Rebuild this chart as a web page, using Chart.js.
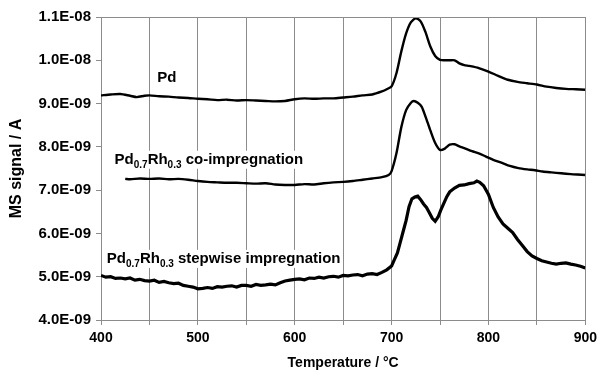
<!DOCTYPE html>
<html>
<head>
<meta charset="utf-8">
<script src="https://cdn.jsdelivr.net/npm/chart.js@4"></script>
<style>
  html, body { margin: 0; padding: 0; background: #fff; }
  canvas { display: block; }
</style>
</head>
<body>
<canvas id="msChart" width="602" height="380"></canvas>
<script>
// signal values in units of 1E-09 A
const pdTemp = [400, 410, 420, 430, 437, 445, 450, 460, 470, 480, 490, 500, 510, 520, 530, 540, 550, 560, 570, 580, 590, 600, 610, 620, 630, 640, 650, 660, 670, 680, 690, 695, 700, 705, 710, 715, 720, 725, 730, 735, 740, 745, 750, 755, 760, 765, 770, 775, 780, 790, 800, 810, 820, 830, 840, 850, 860, 870, 880, 890, 900];
const pdSignal = [9.19, 9.21, 9.22, 9.18, 9.15, 9.18, 9.19, 9.17, 9.16, 9.14, 9.13, 9.11, 9.10, 9.08, 9.09, 9.07, 9.08, 9.07, 9.06, 9.05, 9.06, 9.10, 9.12, 9.11, 9.12, 9.12, 9.14, 9.16, 9.19, 9.21, 9.28, 9.33, 9.40, 9.70, 10.20, 10.62, 10.88, 10.97, 10.90, 10.65, 10.32, 10.10, 10.01, 10.00, 10.00, 10.00, 9.93, 9.89, 9.87, 9.82, 9.74, 9.64, 9.55, 9.50, 9.47, 9.44, 9.39, 9.36, 9.34, 9.33, 9.32];

const coTemp = [425, 430, 440, 450, 460, 470, 480, 490, 500, 510, 520, 530, 540, 550, 560, 570, 580, 590, 600, 610, 620, 630, 640, 650, 660, 670, 680, 690, 697, 700, 705, 710, 715, 720, 723, 727, 731, 735, 740, 745, 750, 755, 760, 765, 770, 775, 783, 790, 797, 805, 814, 822, 831, 840, 848, 856, 865, 875, 885, 892, 900];
const coSignal = [7.26, 7.25, 7.27, 7.26, 7.27, 7.25, 7.26, 7.24, 7.21, 7.19, 7.18, 7.17, 7.17, 7.16, 7.15, 7.16, 7.13, 7.12, 7.12, 7.14, 7.13, 7.16, 7.18, 7.19, 7.21, 7.24, 7.27, 7.30, 7.35, 7.44, 7.85, 8.45, 8.85, 9.02, 9.06, 9.02, 8.93, 8.70, 8.38, 8.09, 7.93, 7.96, 8.05, 8.06, 8.01, 7.97, 7.90, 7.85, 7.78, 7.70, 7.63, 7.56, 7.51, 7.48, 7.46, 7.43, 7.41, 7.39, 7.37, 7.36, 7.35];

const swTemp = [400, 405, 410, 415, 420, 425, 430, 435, 440, 445, 450, 455, 460, 465, 470, 475, 480, 485, 490, 495, 500, 505, 510, 515, 520, 525, 530, 535, 540, 545, 550, 555, 560, 565, 570, 575, 580, 585, 590, 595, 600, 605, 610, 615, 620, 625, 630, 635, 640, 645, 650, 655, 660, 665, 670, 675, 680, 685, 690, 695, 700, 703, 706, 709, 712, 715, 718, 721, 724, 727, 730, 733, 736, 739, 742, 745, 748, 751, 754, 757, 760, 765, 770, 775, 780, 785, 788, 791, 795, 800, 805, 810, 815, 820, 825, 830, 835, 840, 845, 850, 855, 860, 865, 870, 875, 880, 885, 890, 895, 900];
const swSignal = [5.03, 4.99, 5.00, 4.96, 4.97, 4.95, 4.97, 4.92, 4.94, 4.91, 4.90, 4.92, 4.87, 4.89, 4.86, 4.84, 4.85, 4.80, 4.78, 4.76, 4.72, 4.73, 4.75, 4.73, 4.77, 4.76, 4.78, 4.79, 4.76, 4.80, 4.80, 4.78, 4.82, 4.80, 4.81, 4.83, 4.81, 4.86, 4.90, 4.92, 4.94, 4.95, 4.93, 4.97, 4.96, 4.99, 4.97, 5.00, 5.01, 4.99, 5.03, 5.02, 5.04, 5.05, 5.02, 5.06, 5.07, 5.05, 5.10, 5.16, 5.25, 5.40, 5.55, 5.80, 6.05, 6.30, 6.62, 6.80, 6.84, 6.86, 6.78, 6.68, 6.60, 6.48, 6.35, 6.28, 6.38, 6.55, 6.70, 6.85, 6.96, 7.05, 7.11, 7.12, 7.15, 7.17, 7.21, 7.18, 7.10, 6.90, 6.60, 6.38, 6.22, 6.12, 6.02, 5.86, 5.72, 5.58, 5.48, 5.42, 5.37, 5.34, 5.31, 5.29, 5.31, 5.32, 5.29, 5.27, 5.24, 5.20];

// curve labels: [main, sub1, mid, sub2, rest], anchored in data units
const labelText = [
  ['Pd', '', '', '', ''],
  ['Pd', '0.7', 'Rh', '0.3', ' co-impregnation'],
  ['Pd', '0.7', 'Rh', '0.3', ' stepwise impregnation']
];
const labelTemp = [458, 414, 406];
const labelSignal = [9.50, 7.61, 5.32];

const toPoints = (xs, ys) => xs.map((x, i) => ({ x: x, y: ys[i] }));

const fontFamily = "'Liberation Sans', Arial, sans-serif";
const gridGrey = '#8c8c8c';

const frameAndLabels = {
  id: 'frameAndLabels',
  afterDatasetsDraw(chart) {
    const { ctx, chartArea, scales } = chart;
    ctx.save();
    // top frame line
    ctx.strokeStyle = gridGrey;
    ctx.lineWidth = 1;
    ctx.beginPath();
    ctx.moveTo(chartArea.left, chartArea.top + 0.5);
    ctx.lineTo(chartArea.right, chartArea.top + 0.5);
    ctx.stroke();

    labelText.forEach((parts, i) => {
      let x = scales.x.getPixelForValue(labelTemp[i]);
      const y = scales.y.getPixelForValue(labelSignal[i]);
      const segs = [
        [parts[0], 15, 0], [parts[1], 10, 4], [parts[2], 15, 0], [parts[3], 10, 4], [parts[4], 15, 0]
      ];
      let w = 0;
      segs.forEach(s => {
        ctx.font = 'bold ' + s[1] + 'px ' + fontFamily;
        w += ctx.measureText(s[0]).width;
      });
      ctx.fillStyle = '#fff';
      ctx.fillRect(x - 2, y - 13, w + 4, 18);
      ctx.fillStyle = '#000';
      ctx.textBaseline = 'alphabetic';
      segs.forEach(s => {
        if (!s[0]) return;
        ctx.font = 'bold ' + s[1] + 'px ' + fontFamily;
        ctx.fillText(s[0], x, y + s[2]);
        x += ctx.measureText(s[0]).width;
      });
    });
    ctx.restore();
  }
};

new Chart(document.getElementById('msChart'), {
  type: 'line',
  data: {
    datasets: [
      { label: 'Pd', data: toPoints(pdTemp, pdSignal), borderWidth: 2.4, tension: 0.25 },
      { label: 'co-impregnation', data: toPoints(coTemp, coSignal), borderWidth: 2.4, tension: 0.25 },
      { label: 'stepwise impregnation', data: toPoints(swTemp, swSignal), borderWidth: 3.2, tension: 0 }
    ].map(d => Object.assign(d, { borderColor: '#000', pointRadius: 0, fill: false }))
  },
  options: {
    responsive: false,
    animation: false,
    devicePixelRatio: 1,
    layout: { padding: { top: 17, right: 15, left: 0, bottom: 0 } },
    plugins: { legend: { display: false }, tooltip: { enabled: false } },
    scales: {
      x: {
        type: 'linear',
        min: 400,
        max: 900,
        afterFit: s => { s.height = 60; },
        border: { color: gridGrey, width: 1 },
        grid: { color: gridGrey, lineWidth: 1, tickLength: 5, drawOnChartArea: true },
        ticks: {
          stepSize: 50,
          color: '#000',
          padding: 5,
          maxRotation: 0,
          autoSkip: false,
          font: { family: fontFamily, size: 14, weight: 'bold' },
          callback: v => (v % 100 === 0 ? String(v) : '')
        },
        title: {
          display: true,
          text: 'Temperature / °C',
          color: '#000',
          padding: { top: 0, bottom: 8 },
          font: { family: fontFamily, size: 14, weight: 'bold' }
        }
      },
      y: {
        min: 4,
        max: 11,
        afterFit: s => { s.width = 101; },
        border: { color: gridGrey, width: 1 },
        grid: { color: gridGrey, lineWidth: 1, tickLength: 5, drawOnChartArea: false },
        ticks: {
          stepSize: 1,
          color: '#000',
          padding: 5,
          font: { family: fontFamily, size: 15, weight: 'bold' },
          callback: v => (v >= 10 ? (v / 10).toFixed(1) + 'E-08' : v.toFixed(1) + 'E-09')
        },
        title: {
          display: true,
          text: 'MS signal / A',
          color: '#000',
          padding: { top: 7, bottom: 0 },
          font: { family: fontFamily, size: 16, weight: 'bold' }
        }
      }
    }
  },
  plugins: [frameAndLabels]
});
</script>
</body>
</html>
